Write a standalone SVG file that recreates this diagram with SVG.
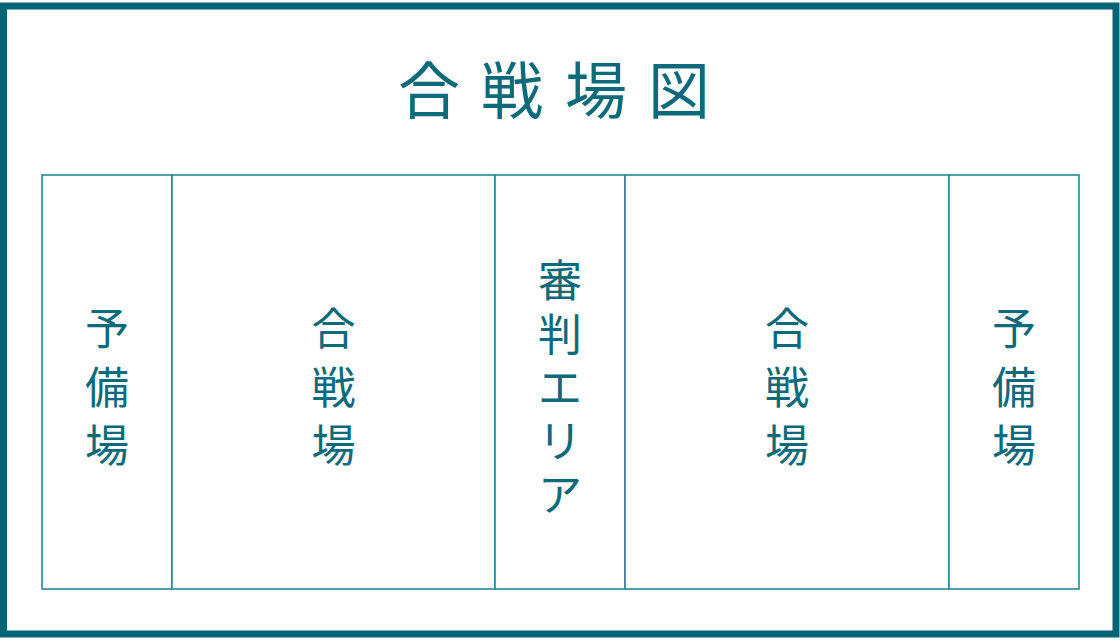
<svg xmlns="http://www.w3.org/2000/svg" width="1120" height="640" viewBox="0 0 1120 640">
  <style>
    .frame { fill: #ffffff; stroke: #006477; stroke-width: 7; }
    .zone { fill: #ffffff; stroke: #2a8899; stroke-width: 1.6; }
    .t { font-family: "Noto Sans CJK JP", "Noto Sans", sans-serif; fill: #0d6a7b; text-anchor: middle; dominant-baseline: central; }
    .title { font-size: 62px; }
    .lbl { font-size: 44px; }
  </style>
  <rect class="frame" x="3.5" y="6" width="1112.5" height="628"/>
  <g id="title">
    <text class="t title" x="429" y="87">合</text>
    <text class="t title" x="512" y="87">戦</text>
    <text class="t title" x="596" y="87">場</text>
    <text class="t title" x="679" y="87">図</text>
  </g>
  <g id="reserve-left">
    <rect class="zone" x="42" y="175" width="130" height="414"/>
    <text class="t lbl" x="107" y="326">予</text>
    <text class="t lbl" x="107" y="384.5">備</text>
    <text class="t lbl" x="107" y="443">場</text>
  </g>
  <g id="battle-left">
    <rect class="zone" x="172" y="175" width="323" height="414"/>
    <text class="t lbl" x="333.5" y="326">合</text>
    <text class="t lbl" x="333.5" y="384.5">戦</text>
    <text class="t lbl" x="333.5" y="443">場</text>
  </g>
  <g id="referee">
    <rect class="zone" x="495" y="175" width="130" height="414"/>
    <text class="t lbl" x="560" y="278">審</text>
    <text class="t lbl" x="560" y="331.5">判</text>
    <text class="t lbl" x="560" y="385">エ</text>
    <text class="t lbl" x="560" y="438.5">リ</text>
    <text class="t lbl" x="560" y="492">ア</text>
  </g>
  <g id="battle-right">
    <rect class="zone" x="625" y="175" width="324" height="414"/>
    <text class="t lbl" x="787" y="326">合</text>
    <text class="t lbl" x="787" y="384.5">戦</text>
    <text class="t lbl" x="787" y="443">場</text>
  </g>
  <g id="reserve-right">
    <rect class="zone" x="949" y="175" width="130" height="414"/>
    <text class="t lbl" x="1014" y="326">予</text>
    <text class="t lbl" x="1014" y="384.5">備</text>
    <text class="t lbl" x="1014" y="443">場</text>
  </g>
  <g id="connectors"/>
</svg>
